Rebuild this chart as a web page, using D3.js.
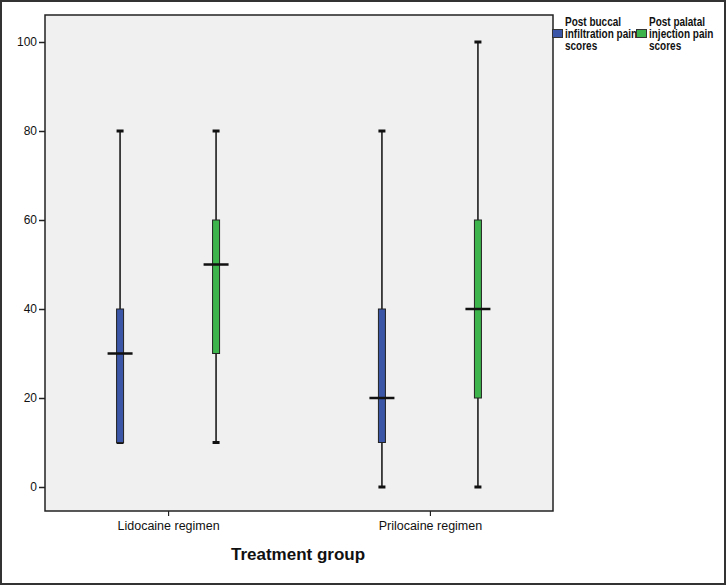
<!DOCTYPE html>
<html>
<head>
<meta charset="utf-8">
<script src="https://cdn.jsdelivr.net/npm/d3@7"></script>
<style>
  body { margin: 0; background: #fff; }
  svg { display: block; font-family: "Liberation Sans", Arial, sans-serif; }
</style>
</head>
<body>
<div id="chart"></div>
<script>
// data
var categories = ["Lidocaine regimen", "Prilocaine regimen"];
var seriesNames = ["Post buccal infiltration pain scores", "Post palatal injection pain scores"];
var seriesColors = ["#3b56a6", "#3db54c"];
var yTicks = [0, 20, 40, 60, 80, 100];

// per series, one value per category
var mins    = [[10, 0], [10, 0]];
var q1s     = [[10, 10], [30, 20]];
var medians = [[30, 20], [50, 40]];
var q3s     = [[40, 40], [60, 60]];
var maxs    = [[80, 80], [80, 100]];

var W = 726, H = 585;
var plot = {left: 45, right: 553, top: 15, bottom: 511};

var svg = d3.select("#chart").append("svg")
    .attr("width", W).attr("height", H);

// outer frame
svg.append("rect").attr("x", 1).attr("y", 1).attr("width", W - 2).attr("height", H - 2)
    .attr("fill", "#fff").attr("stroke", "#333").attr("stroke-width", 2);

// plot background
svg.append("rect")
    .attr("x", plot.left).attr("y", plot.top)
    .attr("width", plot.right - plot.left).attr("height", plot.bottom - plot.top)
    .attr("fill", "#f0f0f0").attr("stroke", "#222").attr("stroke-width", 1.5);

var y = d3.scaleLinear().domain([0, 100]).range([487, 42]);
var x = d3.scalePoint().domain(categories).range([plot.left, plot.right]).padding(0.47);
var xs = d3.scalePoint().domain(d3.range(seriesNames.length)).range([-48, 48]);

// y axis
var yAxis = svg.append("g")
    .attr("transform", "translate(" + plot.left + ",0)")
    .call(d3.axisLeft(y).tickValues(yTicks).tickSize(6).tickPadding(2));
yAxis.select(".domain").remove();
yAxis.selectAll("line").attr("stroke", "#222").attr("stroke-width", 1.5);
yAxis.selectAll("text").attr("font-size", 12).attr("fill", "#111")
    .attr("font-family", "Liberation Sans, Arial, sans-serif");

// x axis
var xAxis = svg.append("g")
    .attr("transform", "translate(0," + plot.bottom + ")")
    .call(d3.axisBottom(x).tickSize(5).tickPadding(5));
xAxis.select(".domain").remove();
xAxis.selectAll("line").attr("stroke", "#222").attr("stroke-width", 1.2);
xAxis.selectAll("text").attr("font-size", 12.5).attr("fill", "#111")
    .attr("font-family", "Liberation Sans, Arial, sans-serif");

svg.append("text")
    .attr("x", 298).attr("y", 560)
    .attr("text-anchor", "middle")
    .attr("font-size", 17).attr("font-weight", "bold").attr("fill", "#111")
    .text("Treatment group");

// build box rows
var boxes = [];
seriesNames.forEach(function (s, si) {
    categories.forEach(function (c, ci) {
        boxes.push({
            cat: c, si: si,
            min: mins[si][ci], q1: q1s[si][ci], med: medians[si][ci],
            q3: q3s[si][ci], max: maxs[si][ci]
        });
    });
});

var g = svg.selectAll(".box")
    .data(boxes)
    .enter().append("g")
    .attr("class", "box")
    .attr("transform", function (d) { return "translate(" + (x(d.cat) + xs(d.si)) + ",0)"; });

// whisker line
g.append("line")
    .attr("x1", 0).attr("x2", 0)
    .attr("y1", function (d) { return y(d.max); })
    .attr("y2", function (d) { return y(d.min); })
    .attr("stroke", "#333").attr("stroke-width", 1.8);

// caps
g.selectAll(".cap")
    .data(function (d) { return [d.min, d.max]; })
    .enter().append("rect")
    .attr("class", "cap")
    .attr("x", -3.5).attr("width", 7)
    .attr("y", function (v) { return y(v) - 1.5; })
    .attr("height", 3)
    .attr("fill", "#111");

// box
g.append("rect")
    .attr("x", -3.5).attr("width", 7)
    .attr("y", function (d) { return y(d.q3); })
    .attr("height", function (d) { return y(d.q1) - y(d.q3); })
    .attr("fill", function (d) { return seriesColors[d.si]; })
    .attr("stroke", "#222").attr("stroke-width", 1);

// median
g.append("line")
    .attr("x1", -12.5).attr("x2", 12.5)
    .attr("y1", function (d) { return y(d.med); })
    .attr("y2", function (d) { return y(d.med); })
    .attr("stroke", "#111").attr("stroke-width", 2.5);

// legend
var legendX = [552, 636];
var legendLines = [["Post buccal", "infiltration pain", "scores"], ["Post palatal", "injection pain", "scores"]];
var lg = svg.selectAll(".legend")
    .data(seriesNames)
    .enter().append("g")
    .attr("class", "legend")
    .attr("transform", function (d, i) { return "translate(" + legendX[i] + ",0)"; });

lg.append("rect")
    .attr("x", 0.5).attr("y", 29.5).attr("width", 10).attr("height", 8)
    .attr("fill", function (d, i) { return seriesColors[i]; })
    .attr("stroke", "#333").attr("stroke-width", 1);

// legend text is narrow in the source, squeeze it horizontally
lg.append("text")
    .attr("transform", "translate(13,0) scale(0.8,1)")
    .attr("font-size", 12.5).attr("font-weight", "bold").attr("fill", "#111")
    .selectAll("tspan")
    .data(function (d, i) { return legendLines[i]; })
    .enter().append("tspan")
    .attr("x", 0)
    .attr("y", function (t, j) { return 26 + j * 12; })
    .text(function (t) { return t; });
</script>
</body>
</html>
